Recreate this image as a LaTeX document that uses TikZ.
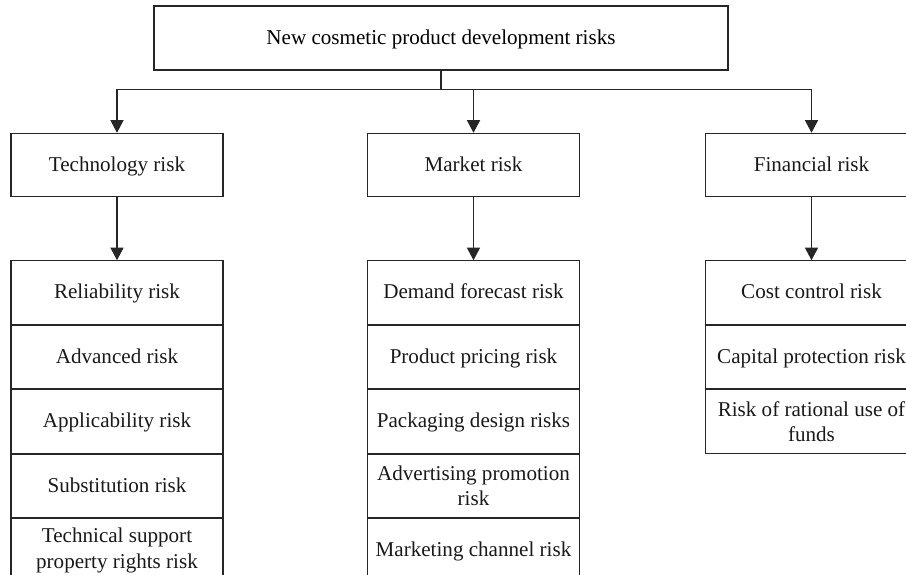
\documentclass[tikz,border=0pt]{standalone}
\usepackage{fontspec}
\setmainfont{Liberation Serif}
\usetikzlibrary{arrows.meta, calc}
\tikzset{
    top-box/.style={
        draw=black!85, line width=0.65pt, minimum width=11.48cm, minimum height=1.28cm,
        align=center, text height=2.2ex, text depth=0.6ex
    },
    risk-box/.style={
        draw=black!85, line width=0.65pt, minimum width=4.24cm, minimum height=1.267cm,
        align=center, inner sep=1pt, text=black!90, text height=2.2ex, text depth=0.6ex
    },
    two-lines/.style={
        text height=, text depth=
    },
    down-arrow/.style={
        draw=black!85, line width=0.65pt, -{Triangle[length=2.5mm, width=2.6mm]}
    },
}

\begin{document}
\begin{tikzpicture}[font=\fontsize{12}{14.5}\selectfont]

        \useasboundingbox (0,0) rectangle (18.12,-11.5);
        \clip (0,0) rectangle (18.12,-11.5);

        % ROOT
        \node[top-box]  (ROOT)  at (8.82,-0.76)  {New cosmetic product development risks};

        % CATEGORIES
        \node[risk-box] (TECH)  at (2.34,-3.3)   {Technology risk};
        \node[risk-box] (MARK)  at (9.47,-3.3)   {Market risk};
        \node[risk-box] (FIN)   at (16.23,-3.3)  {Financial risk};

        % BUS FROM ROOT TO CATEGORIES
        \coordinate[]   (BUS)   at ($(ROOT.south) + (0,-.38)$);
        \draw[draw=black!85, line width=0.65pt] (ROOT.south) -- (BUS);
        \draw[down-arrow] (BUS) -| (TECH.north);
        \draw[down-arrow] (BUS) -| (MARK.north);
        \draw[down-arrow] (BUS) -| (FIN.north);

        % TECHNOLOGY RISKS
        \node[risk-box, anchor=north] (TECH1) at ($(TECH.south) + (0,-1.26)$) {Reliability risk};
        \node[risk-box, anchor=north] (TECH2) at (TECH1.south) {Advanced risk};
        \node[risk-box, anchor=north] (TECH3) at (TECH2.south) {Applicability risk};
        \node[risk-box, anchor=north] (TECH4) at (TECH3.south) {Substitution risk};
        \node[risk-box, two-lines, anchor=north] (TECH5) at (TECH4.south) {Technical support\\property rights risk};
        \draw[down-arrow] (TECH.south) -- (TECH1.north);

        % MARKET RISKS
        \node[risk-box, anchor=north] (MARK1) at ($(MARK.south) + (0,-1.26)$) {Demand forecast risk};
        \node[risk-box, anchor=north] (MARK2) at (MARK1.south) {Product pricing risk};
        \node[risk-box, anchor=north] (MARK3) at (MARK2.south) {Packaging design risks};
        \node[risk-box, two-lines, anchor=north] (MARK4) at (MARK3.south) {Advertising promotion\\risk};
        \node[risk-box, anchor=north] (MARK5) at (MARK4.south) {Marketing channel risk};
        \draw[down-arrow] (MARK.south) -- (MARK1.north);

        % FINANCIAL RISKS
        \node[risk-box, anchor=north] (FIN1) at ($(FIN.south) + (0,-1.26)$) {Cost control risk};
        \node[risk-box, anchor=north] (FIN2) at (FIN1.south) {Capital protection risk};
        \node[risk-box, two-lines, anchor=north] (FIN3) at (FIN2.south) {Risk of rational use of\\funds};
        \draw[down-arrow] (FIN.south) -- (FIN1.north);

\end{tikzpicture}
\end{document}
